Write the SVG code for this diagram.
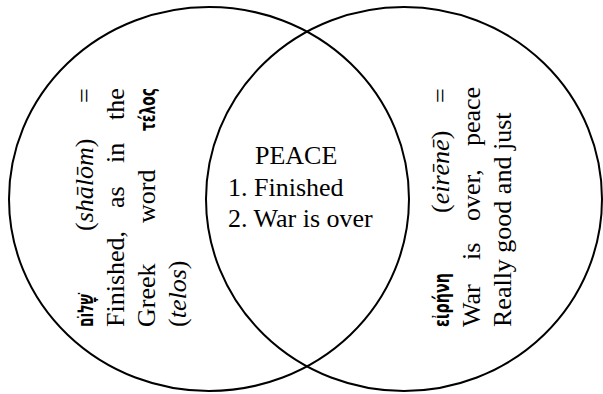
<svg xmlns="http://www.w3.org/2000/svg" width="603" height="394" viewBox="0 0 603 394">
<style>
.c{fill:none;stroke:#000;stroke-width:2}
.t{font-family:"Liberation Serif","Times New Roman",serif;font-size:26px;fill:#000}
.i{font-family:"Liberation Serif","Times New Roman",serif;font-style:italic}
.b{font-family:"DejaVu Sans Condensed","DejaVu Sans",sans-serif;font-weight:bold;font-size:22px;fill:#000}
</style>
<rect width="603" height="394" fill="#fff"/>
<g id="shalom">
<ellipse class="c" cx="209" cy="199" rx="200" ry="192"/>
<g transform="translate(93,327) rotate(-90)">
<text class="b" x="0" y="0" textLength="33" lengthAdjust="spacingAndGlyphs">שָׁלוֹם</text>
<text class="t" x="96" y="0">(<tspan class="i">shālōm</tspan>)</text>
<text class="t" x="224" y="0">=</text>
</g>
<text class="t" transform="translate(124,327) rotate(-90)"><tspan x="0">Finished,</tspan><tspan x="119">as</tspan><tspan x="164">in</tspan><tspan x="207">the</tspan></text>
<g transform="translate(155,327) rotate(-90)">
<text class="t" x="0" y="0">Greek</text>
<text class="t" x="104" y="0">word</text>
<text class="b" x="196" y="0" textLength="43" lengthAdjust="spacingAndGlyphs">τέλος</text>
</g>
<text class="t" transform="translate(186,327) rotate(-90)">(<tspan class="i">telos</tspan>)</text>
</g>
<g id="eirene">
<ellipse class="c" cx="404" cy="199" rx="198" ry="192"/>
<g transform="translate(449,327) rotate(-90)">
<text class="b" x="0" y="0" textLength="54" lengthAdjust="spacingAndGlyphs">εἰρήνη</text>
<text class="t" x="114" y="0">(<tspan class="i">eirēnē</tspan>)</text>
<text class="t" x="224" y="0">=</text>
</g>
<text class="t" transform="translate(480,327) rotate(-90)"><tspan x="0">War</tspan><tspan x="67">is</tspan><tspan x="106">over,</tspan><tspan x="181">peace</tspan></text>
<text class="t" transform="translate(511,327) rotate(-90)">Really good and just</text>
</g>
<g id="peace">
<text class="t" x="255" y="164">PEACE</text>
<text class="t" x="228" y="195.5">1. Finished</text>
<text class="t" x="228" y="227">2. War is over</text>
</g>
</svg>
